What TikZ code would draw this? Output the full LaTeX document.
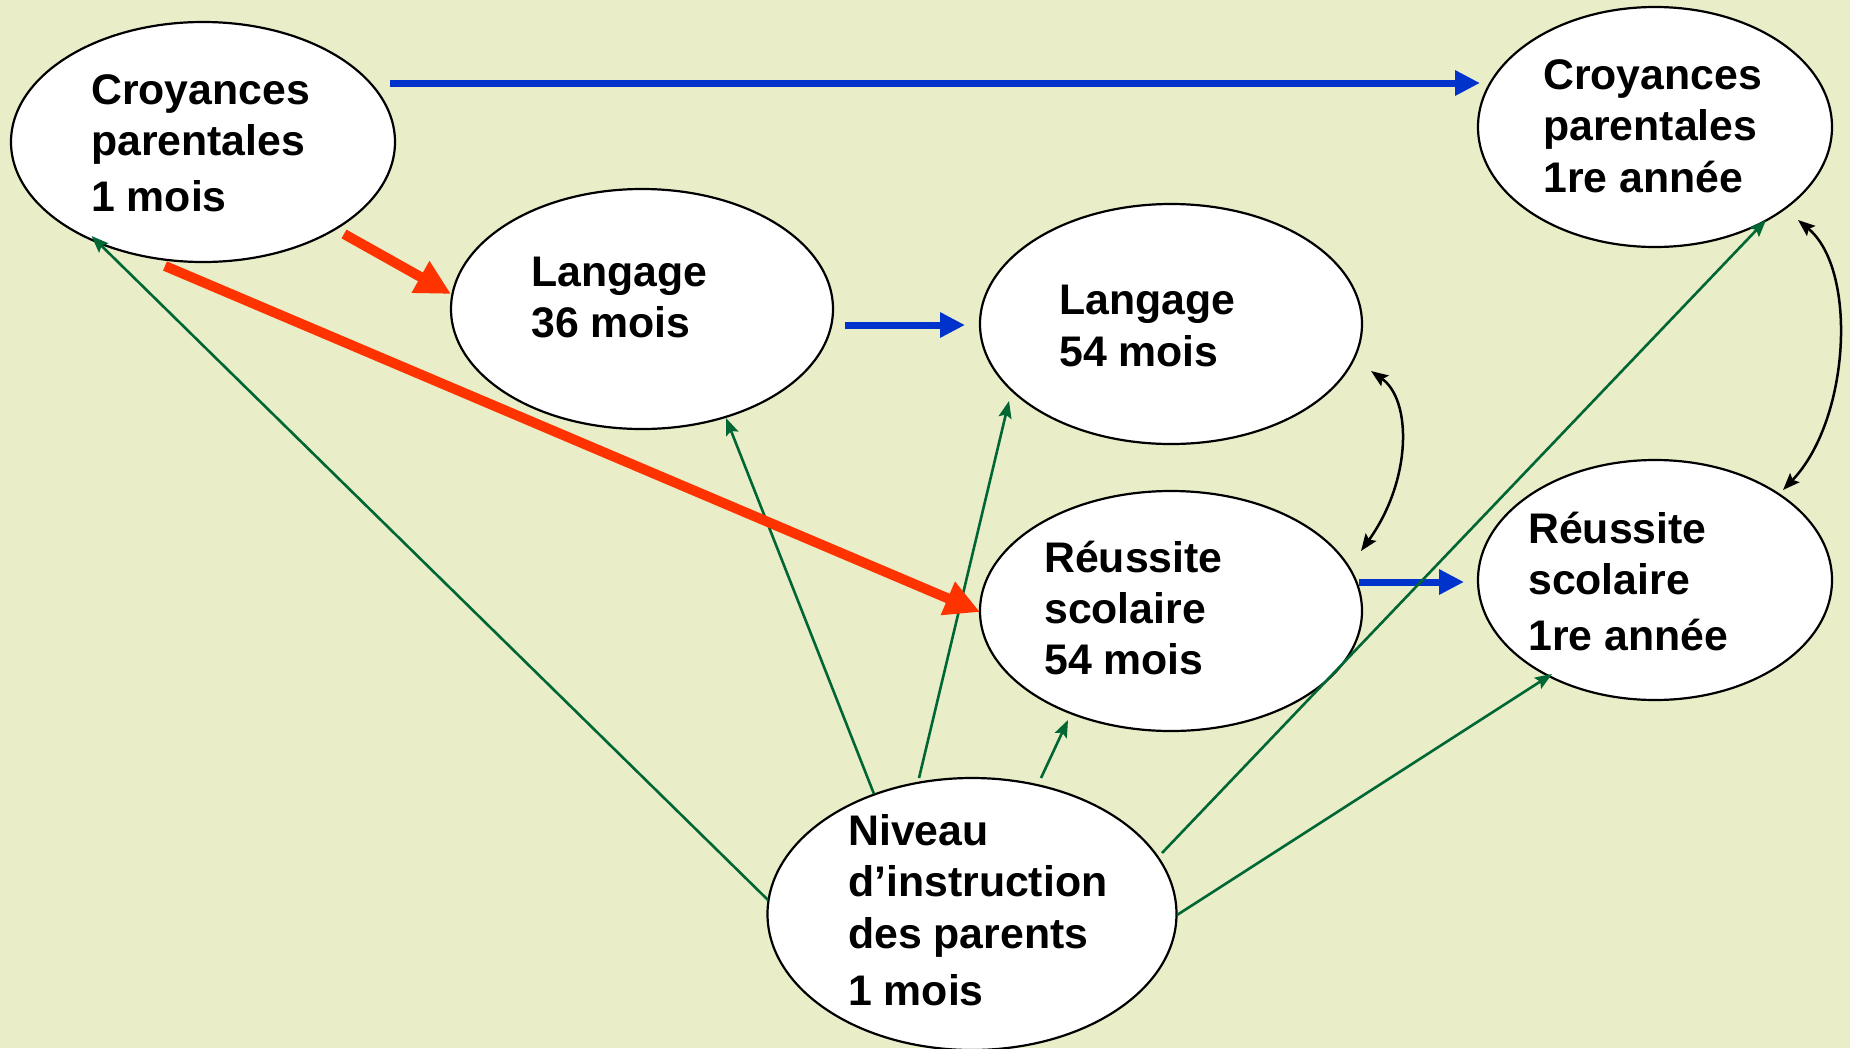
\documentclass[tikz,border=0pt]{standalone}
\usepackage{fontspec}
\setmainfont{Liberation Sans}
\usetikzlibrary{arrows.meta,shapes.geometric,calc}
\definecolor{bg}{RGB}{233,237,200}
\definecolor{bluec}{RGB}{0,51,204}
\definecolor{redc}{RGB}{255,51,0}
\definecolor{greenc}{RGB}{0,102,51}
\begin{document}
\begin{tikzpicture}[x=1bp,y=-1bp,
  oval/.style={ellipse,draw=black,line width=2.2bp,fill=white,inner sep=0pt},
  lbl/.style={anchor=base west,inner sep=0pt,font=\bfseries\fontsize{42.8bp}{51bp}\selectfont},
  bluearr/.style={draw=bluec,line width=7bp,-{Triangle[length=25bp,width=24bp]}},
  redarr/.style={draw=redc,line width=10bp,-{Triangle[length=35bp,width=34bp]}},
  greenarr/.style={draw=greenc,line width=2.6bp,-{Stealth[length=17bp,width=13bp,inset=3bp]}},
  blackarr/.style={draw=black,line width=2.5bp,{Stealth[length=17bp,width=13bp,inset=3bp]}-{Stealth[length=17bp,width=13bp,inset=3bp]}}]
\fill[bg] (0,0) rectangle (1850,1048);
\useasboundingbox (0,0) rectangle (1850,1048);
% ellipses
\node[oval,minimum width=384bp,minimum height=240bp] (c1) at (203,142) {};
\node[oval,minimum width=382bp,minimum height=240bp] (l36) at (642,309) {};
\node[oval,minimum width=382bp,minimum height=240bp] (l54) at (1171,324) {};
\node[oval,minimum width=354bp,minimum height=240bp] (c2) at (1655,127) {};
\node[oval,minimum width=382bp,minimum height=240bp] (r54) at (1171,611) {};
\node[oval,minimum width=354bp,minimum height=240bp] (r2) at (1655,580) {};
\node[oval,minimum width=409bp,minimum height=272bp] (niv) at (972,914) {};
% blue arrows
\draw[bluearr] ($(c1.center)+(187,-59)$) -- ($(c2.center)+(-175,-44)$);
\draw[bluearr] ($(l36.center)+(203,16)$) -- ($(l54.center)+(-206,1)$);
\draw[bluearr] ($(r54.center)+(188,-29)$) -- ($(r2.center)+(-191,2)$);
% green arrows
\draw[greenarr] ($(niv.center)+(-204,-14)$) -- ($(c1.center)+(-111.5,94)$);
\draw[greenarr] ($(niv.center)+(-98,-120)$) -- ($(l36.center)+(84,109)$);
\draw[greenarr] ($(niv.center)+(-53,-136)$) -- ($(l54.center)+(-162,77)$);
\draw[greenarr] ($(niv.center)+(69,-136)$) -- ($(r54.center)+(-103,109)$);
\draw[greenarr] ($(niv.center)+(190,-61)$) -- ($(c2.center)+(111,93)$);
\draw[greenarr] ($(niv.center)+(205,1)$) -- ($(r2.center)+(-103,94)$);
% red arrows
\draw[redarr] ($(c1.center)+(141,92)$) -- ($(l36.center)+(-191,-15)$);
\draw[redarr] ($(c1.center)+(-38,124)$) -- ($(r54.center)+(-191,1)$);
% black double arrows
\draw[blackarr] ($(l54.center)+(200,47)$) .. controls (1412,400) and (1412,480) .. ($(r54.center)+(190,-60)$);
\draw[blackarr] ($(c2.center)+(143,93)$) .. controls (1858,270) and (1850,420) .. ($(r2.center)+(128,-90)$);
% texts
\node[lbl] (t1) at (91,104) {\vtop{\hbox{Croyances}\hbox{parentales}\vskip5bp\hbox{1 mois}}};
\node[lbl] (t2) at (531,286) {\vtop{\hbox{Langage}\hbox{36 mois}}};
\node[lbl] (t3) at (1059,314) {\vtop{\hbox{Langage}\vskip1bp\hbox{54 mois}}};
\node[lbl] (t4) at (1543,89) {\vtop{\hbox{Croyances}\hbox{parentales}\vskip1bp\hbox{1re année}}};
\node[lbl] (t5) at (1044,572) {\vtop{\hbox{Réussite}\hbox{scolaire}\hbox{54 mois}}};
\node[lbl] (t6) at (1528,543) {\vtop{\hbox{Réussite}\hbox{scolaire}\vskip5bp\hbox{1re année}}};
\node[lbl] (t7) at (848,845) {\vtop{\hbox{Niveau}\hbox{d’instruction}\vskip1bp\hbox{des parents}\vskip6bp\hbox{1 mois}}};
\end{tikzpicture}
\end{document}
